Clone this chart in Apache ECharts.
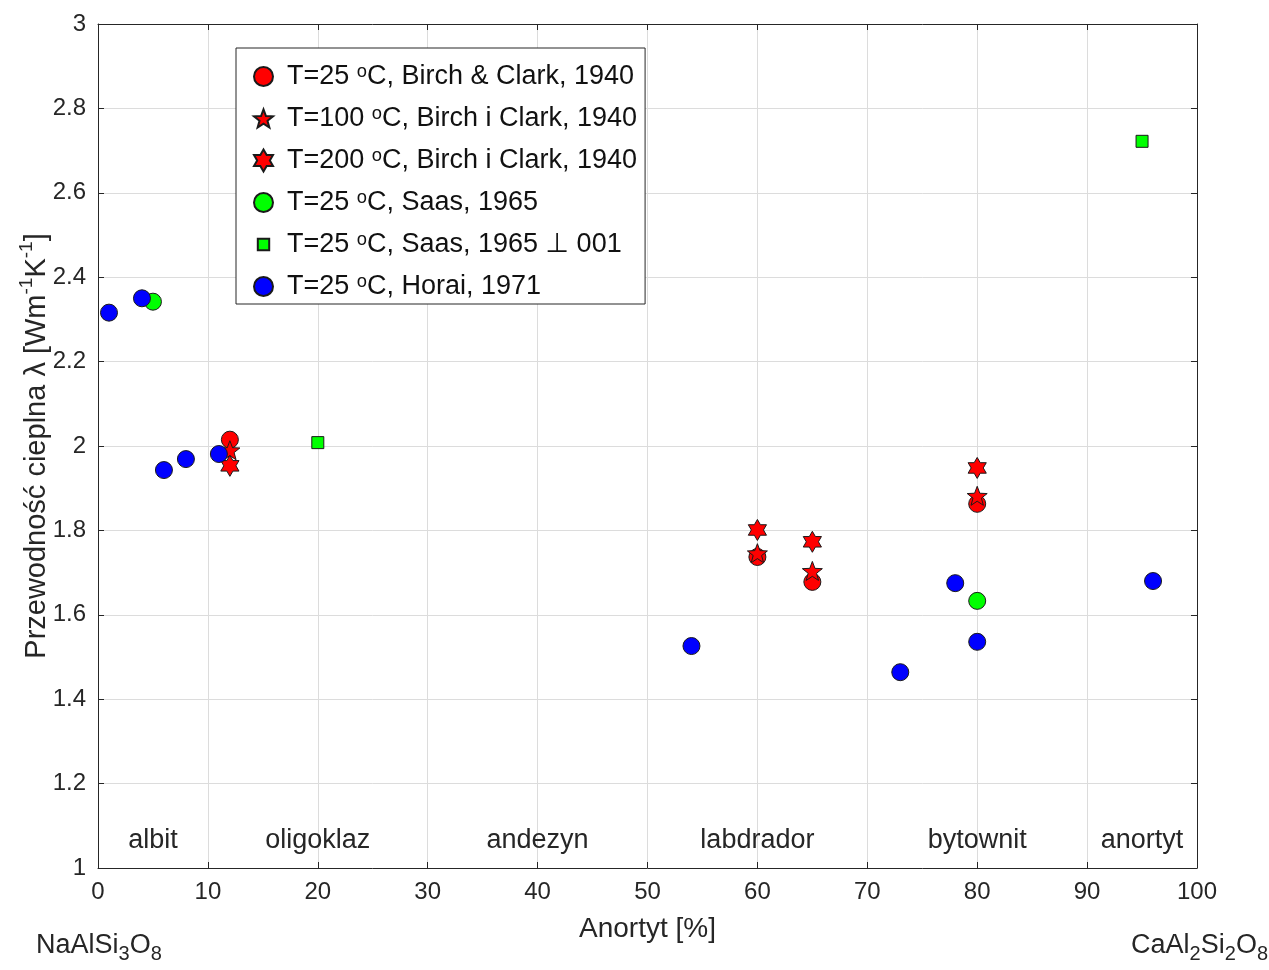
<!DOCTYPE html>
<html>
<head>
<meta charset="utf-8">
<script src="https://cdn.jsdelivr.net/npm/echarts@6/dist/echarts.min.js"></script>
<style>
  html, body { margin: 0; padding: 0; background: #fff; }
  #chart { width: 1269px; height: 970px; }
</style>
</head>
<body>
<div id="chart"></div>
<script>
// Thermal conductivity of plagioclase feldspars vs anorthite content
const birch25  = [[12, 2.015], [60, 1.737], [65, 1.678], [80, 1.863]];
const birch100 = [[12, 1.990], [60, 1.746], [65, 1.704], [80, 1.882]];
const birch200 = [[12, 1.953], [60, 1.801], [65, 1.773], [80, 1.948]];
const saas     = [[5, 2.342], [80, 1.633]];
const saas001  = [[20, 2.008], [95, 2.722]];
const horai    = [[1, 2.316], [4, 2.350], [6, 1.943], [8, 1.969], [11, 1.981],
                  [54, 1.526], [73, 1.464], [78, 1.675], [80, 1.536], [96, 1.680]];

// Plagioclase series names along the composition axis
const regionNames = ['albit', 'oligoklaz', 'andezyn', 'labdrador', 'bytownit', 'anortyt'];
const regionX     = [5, 20, 40, 60, 80, 95];
const regionY     = 1.066;

const xTicks = [0, 100, 10];
const yTicks = [1, 3, 0.2];

// degree written as a raised small "o" (U+1D52)
const seriesNames = [
  'T=25 \u1d52C, Birch & Clark, 1940',
  'T=100 \u1d52C, Birch i Clark, 1940',
  'T=200 \u1d52C, Birch i Clark, 1940',
  'T=25 \u1d52C, Saas, 1965',
  'T=25 \u1d52C, Saas, 1965 \u22a5 001',
  'T=25 \u1d52C, Horai, 1971'
];

// star-shaped symbol path with n points
function starPath(n, inner) {
  const pts = [];
  for (let i = 0; i < 2 * n; i++) {
    const r = i % 2 === 0 ? 1 : inner;
    const a = -Math.PI / 2 + i * Math.PI / n;
    pts.push((50 + 50 * r * Math.cos(a)).toFixed(2) + ' ' + (50 + 50 * r * Math.sin(a)).toFixed(2));
  }
  return 'path://M' + pts.join(' L') + ' Z';
}
const pentagram = starPath(5, 0.42);
const hexagram = starPath(6, 0.577);
// small square inside a padded box, for the legend entry
const smallSquare = 'path://M0 0 M100 100 M20 20 L80 20 L80 80 L20 80 Z';

const FONT = '"Liberation Sans", Arial, Helvetica, "DejaVu Sans", sans-serif';
const INK = '#262626';

function mk(name, data, symbol, size, color) {
  return {
    name: name, type: 'scatter', data: data,
    symbol: symbol, symbolSize: size, symbolKeepAspect: true,
    itemStyle: { color: color, borderColor: '#1a1a1a', borderWidth: 1, opacity: 1 },
    emphasis: { disabled: true }
  };
}

const chart = echarts.init(document.getElementById('chart'), null, { renderer: 'canvas' });

const axisCommon = {
  axisLine: { show: true, onZero: false, lineStyle: { color: INK, width: 1 } },
  axisTick: { show: true, inside: true, length: 6, lineStyle: { color: INK } },
  splitLine: { show: true, lineStyle: { color: '#dcdcdc', width: 1 } }
};

const legendIcons = ['circle', pentagram, hexagram, 'circle', smallSquare, 'circle'];

chart.setOption({
  animation: false,
  backgroundColor: '#fff',
  textStyle: { fontFamily: FONT },
  grid: { left: 98, right: 72, top: 24, bottom: 102, show: false },
  xAxis: [
    Object.assign({
      type: 'value', min: xTicks[0], max: xTicks[1], interval: xTicks[2],
      name: 'Anortyt [%]', nameLocation: 'middle', nameGap: 47,
      nameTextStyle: { fontSize: 28, color: INK, fontFamily: FONT },
      axisLabel: { fontSize: 24, color: INK, margin: 12, fontFamily: FONT }
    }, axisCommon),
    Object.assign({
      type: 'value', min: xTicks[0], max: xTicks[1], interval: xTicks[2], position: 'top',
      axisLabel: { show: false }
    }, axisCommon, { splitLine: { show: false } })
  ],
  yAxis: [
    Object.assign({
      type: 'value', min: yTicks[0], max: yTicks[1], interval: yTicks[2],
      axisLabel: { fontSize: 24, color: INK, margin: 12, fontFamily: FONT,
                   formatter: v => String(Math.round(v * 10) / 10) }
    }, axisCommon),
    Object.assign({
      type: 'value', min: yTicks[0], max: yTicks[1], interval: yTicks[2], position: 'right',
      axisLabel: { show: false }
    }, axisCommon, { splitLine: { show: false } })
  ],
  legend: {
    orient: 'vertical', left: 236, top: 48,
    padding: [15, 8, 4, 17],
    itemGap: 15, itemWidth: 19, itemHeight: 22,
    backgroundColor: '#fff', borderColor: INK, borderWidth: 1, borderRadius: 0,
    selectedMode: false,
    data: seriesNames.map((n, i) => ({ name: n, icon: legendIcons[i] })),
    formatter: name => '{g| }{t|' + name + '}',
    textStyle: {
      fontFamily: FONT, color: '#111',
      rich: {
        g: { width: 9, fontSize: 10, lineHeight: 10 },
        t: { fontSize: 27, fontFamily: FONT, color: '#111', lineHeight: 26 }
      }
    }
  },
  series: [
    mk(seriesNames[0], birch25, 'circle', 17, '#ff0000'),
    mk(seriesNames[1], birch100, pentagram, 20, '#ff0000'),
    mk(seriesNames[2], birch200, hexagram, 21, '#ff0000'),
    mk(seriesNames[3], saas, 'circle', 17, '#00ff00'),
    mk(seriesNames[4], saas001, 'rect', 12, '#00ff00'),
    mk(seriesNames[5], horai, 'circle', 17, '#0000ff'),
    {
      name: 'regions', type: 'scatter', symbol: 'circle', symbolSize: 1, silent: true,
      itemStyle: { opacity: 0 },
      data: regionNames.map((n, i) => ({ value: [regionX[i], regionY], name: n })),
      label: {
        show: true, position: 'inside', formatter: p => p.name,
        fontSize: 27, color: INK, fontFamily: FONT, opacity: 1
      },
      labelLayout: { hideOverlap: false }
    }
  ],
  graphic: [
    {
      type: 'text', left: 36, top: 928,
      style: {
        text: '{m|NaAlSi}{b|3}{m|O}{b|8}',
        rich: {
          m: { fontSize: 27, fontFamily: FONT, fill: INK, lineHeight: 30 },
          b: { fontSize: 20, fontFamily: FONT, fill: INK, lineHeight: 20, padding: [16, 0, 0, 0] }
        }
      }
    },
    {
      type: 'text', right: 1, top: 928,
      style: {
        text: '{m|CaAl}{b|2}{m|Si}{b|2}{m|O}{b|8}',
        rich: {
          m: { fontSize: 27, fontFamily: FONT, fill: INK, lineHeight: 30 },
          b: { fontSize: 20, fontFamily: FONT, fill: INK, lineHeight: 20, padding: [16, 0, 0, 0] }
        }
      }
    },
    {
      type: 'text', x: 33, y: 446, rotation: Math.PI / 2,
      style: {
        text: '{m|Przewodność cieplna λ [Wm}{s|-1}{m|K}{s|-1}{m|]}',
        align: 'center', verticalAlign: 'middle',
        rich: {
          m: { fontSize: 29, fontFamily: FONT, fill: INK, lineHeight: 32, padding: [7, 0, 0, 0] },
          s: { fontSize: 19, fontFamily: FONT, fill: INK, lineHeight: 18, verticalAlign: 'top' }
        }
      }
    }
  ]
});
</script>
</body>
</html>
